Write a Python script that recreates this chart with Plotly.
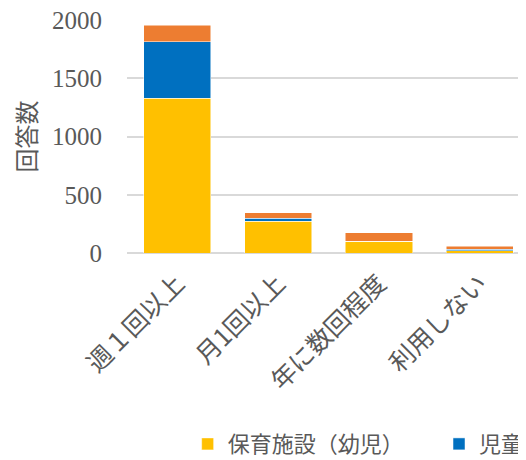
import plotly.graph_objects as go

categories = ["週１回以上", "月1回以上", "年に数回程度", "利用しない"]
youji = [1329, 274, 100, 20]
jidou = [485, 23, 2, 12]
sonota = [143, 48, 74, 28]
y_ticks = [0, 500, 1000, 1500, 2000]

gray = "#595959"
fig = go.Figure()
fig.add_bar(x=categories, y=youji, name="保育施設（幼児）", legend="legend",
            marker=dict(color="#FFC000", line=dict(color="white", width=0.5)))
fig.add_bar(x=categories, y=jidou, name="児童", legend="legend2",
            marker=dict(color="#0070C0", line=dict(color="white", width=0.5)))
fig.add_bar(x=categories, y=sonota, name="その他", showlegend=False,
            marker=dict(color="#ED7D31", line=dict(color="white", width=0.5)))

legfont = dict(size=22, color=gray, family="Noto Sans CJK JP")
fig.update_layout(
    width=518, height=452,
    barmode="stack", bargap=0.333,
    plot_bgcolor="white", paper_bgcolor="white",
    margin=dict(l=119, r=0, t=12, b=207, autoexpand=False),
    font=dict(family="Noto Sans CJK JP", color=gray),
    legend=dict(orientation="h", x=0.152, xanchor="left", y=-0.73, yanchor="top",
                font=legfont, itemwidth=30, bgcolor="rgba(0,0,0,0)"),
    legend2=dict(orientation="h", x=0.782, xanchor="left", y=-0.73, yanchor="top",
                 font=legfont, itemwidth=30, bgcolor="rgba(0,0,0,0)"),
    xaxis=dict(range=[-0.5, 3.46], tickangle=-45, showline=False, automargin=False,
               ticklabelstandoff=10,
               tickfont=dict(size=25, color=gray, family="Noto Sans CJK JP")),
    yaxis=dict(range=[0, 2000.5], tickvals=y_ticks, showgrid=True, gridcolor="#D9D9D9", gridwidth=1.5,
               zeroline=True, zerolinecolor="#D9D9D9", zerolinewidth=1.5, automargin=False,
               ticks="", ticklabelstandoff=24, ticklabeloverflow="allow",
               tickfont=dict(size=25, color=gray, family="Liberation Serif"),
               title=dict(text="回答数", font=dict(size=24, color=gray, family="Noto Sans CJK JP"), standoff=16)),
)
fig.write_html("out.html")
